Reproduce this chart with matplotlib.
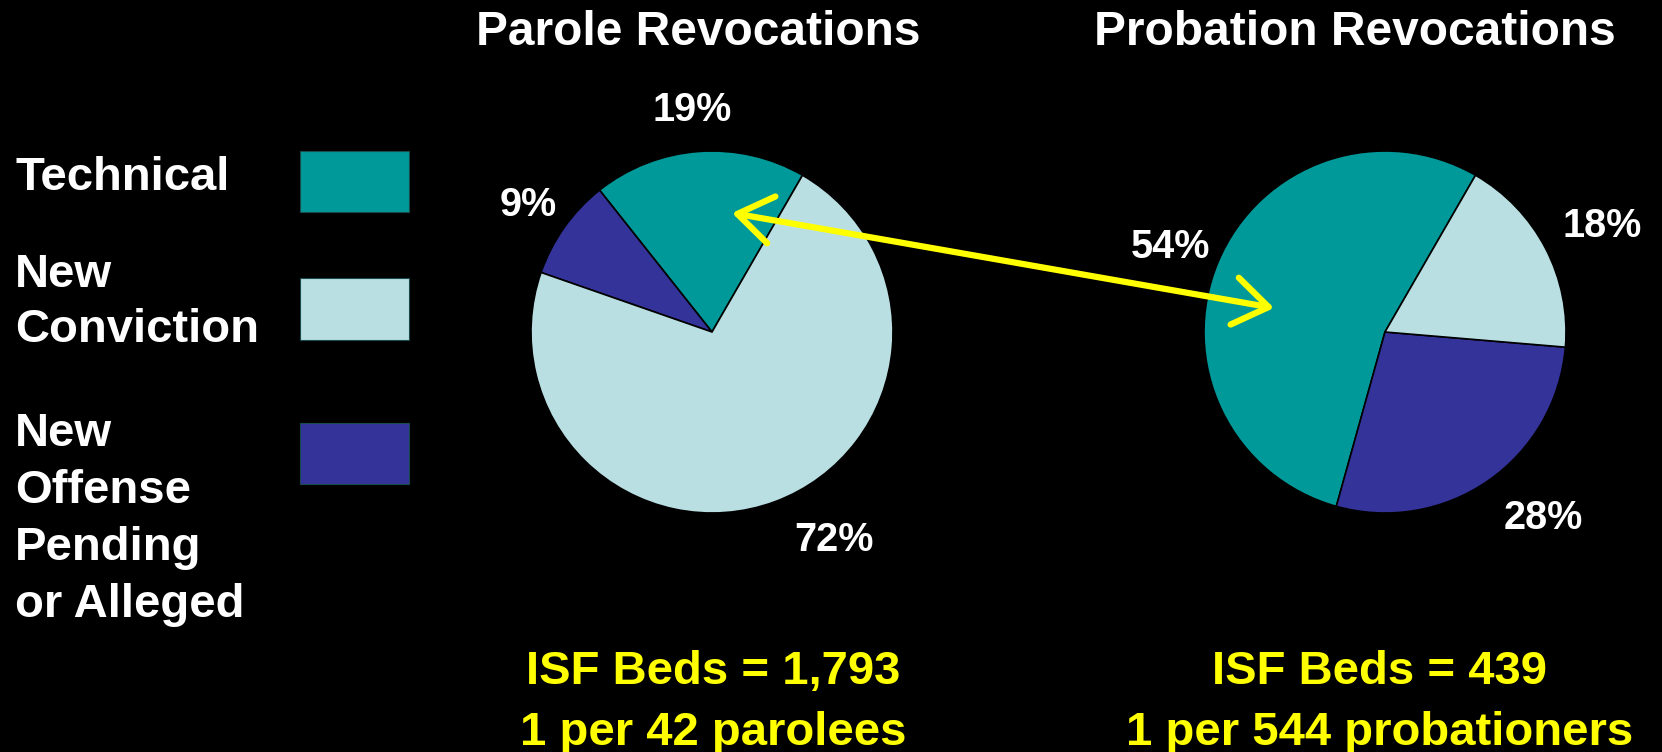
import matplotlib.pyplot as plt
from matplotlib.patches import Rectangle, FancyArrowPatch

plt.rcParams['font.family'] = ['Liberation Sans', 'DejaVu Sans']
plt.rcParams['font.weight'] = 'bold'

# data
categories = ['Technical', 'New\nConviction', 'New\nOffense\nPending\nor Alleged']
colors = ['#009999', '#B9DFE3', '#333399']
parole = [19, 72, 9]       # technical, new conviction, new offense
probation = [54, 18, 28]
titles = ['Parole Revocations', 'Probation Revocations']
beds = ['ISF Beds = 1,793\n1 per 42 parolees', 'ISF Beds = 439\n1 per 544 probationers']

# pie order counterclockwise: technical, new offense, new conviction
order = [0, 2, 1]

W, H = 1662, 752
fig = plt.figure(figsize=(W / 100, H / 100), dpi=100, facecolor='black')
ax = fig.add_axes([0, 0, 1, 1])
ax.set_facecolor('black')

def Y(y):
    # pixel-from-top to axis coords
    return H - y

centers = [(712, Y(332)), (1385, Y(332))]
radius = 181
label_pos = [[(692, Y(110)), (834, Y(540)), (528, Y(205))],
             [(1170, Y(247)), (1602, Y(226)), (1543, Y(518))]]
title_x = [698, 1355]
beds_x = [713, 1380]

for k, vals in enumerate([parole, probation]):
    ax.pie([vals[i] for i in order], colors=[colors[i] for i in order],
           startangle=60, counterclock=True, center=centers[k], radius=radius,
           wedgeprops=dict(edgecolor='black', linewidth=1.2), frame=True)
    for i, v in enumerate(vals):
        ax.text(label_pos[k][i][0], label_pos[k][i][1], f'{v}%', color='white',
                fontsize=28.5, ha='center', va='center')
    ax.text(title_x[k], Y(45), titles[k], color='white', fontsize=34.5,
            ha='center', va='baseline')
    ax.text(beds_x[k], Y(745), beds[k], color='#FFFF00', fontsize=34,
            ha='center', va='baseline', linespacing=1.49)

ax.set_xlim(0, W)
ax.set_ylim(0, H)
ax.set_aspect('equal')
ax.axis('off')

# legend (baseline of last line of each label)
text_y = [190, 342, 617]
spacing = [1.0, 1.32, 1.38]
box_y = [(151, 212), (278, 340), (423, 484)]
for i, cat in enumerate(categories):
    ax.text(15, Y(text_y[i]), cat, color='white', fontsize=34,
            ha='left', va='baseline', linespacing=spacing[i])
    y0, y1 = box_y[i]
    ax.add_patch(Rectangle((300, Y(y1)), 109, y1 - y0, facecolor=colors[i],
                           edgecolor='#1a4a4a', linewidth=0.8))

# arrow between technical slices
arr = FancyArrowPatch((732, Y(213)), (1274, Y(308)), arrowstyle='<->,head_length=0.55,head_width=0.38',
                      mutation_scale=45, color='#FFFF00', linewidth=4.5,
                      capstyle='round', joinstyle='round', shrinkA=0, shrinkB=0)
ax.add_patch(arr)

fig.savefig('out.png', dpi=100, facecolor='black')
